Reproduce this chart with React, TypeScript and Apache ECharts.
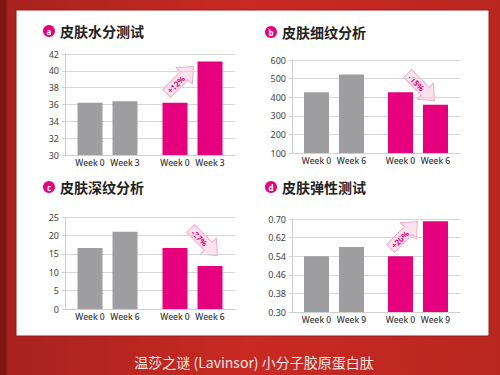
import React, { useEffect, useRef } from "react";
import * as echarts from "echarts";

// ---- data ----
const panelTitles = ["皮肤水分测试", "皮肤细纹分析", "皮肤深纹分析", "皮肤弹性测试"];
const badgeLetters = ["a", "b", "c", "d"];
const groups = ["对照组", "胶原蛋白肽组"];
const weekLabelsA = ["Week 0", "Week 3"];
const weekLabelsB = ["Week 0", "Week 6"];
const weekLabelsC = ["Week 0", "Week 6"];
const weekLabelsD = ["Week 0", "Week 9"];
// values: [control, collagen]
const moistureWeek0 = [36.2, 36.2];
const moistureWeek3 = [36.4, 41.1];
const fineLinesWeek0 = [427, 427];
const fineLinesWeek6 = [522, 360];
const deepLinesWeek0 = [16.6, 16.6];
const deepLinesWeek6 = [21.0, 11.7];
const elasticityWeek0 = [0.54, 0.54];
const elasticityWeek9 = [0.58, 0.69];
const changeLabels = ["+12%", "-15%", "-27%", "+20%"];
const yRanges = [
  [30, 42, 2],
  [100, 600, 100],
  [0, 25, 5],
  [0.3, 0.7, 0.08],
];
const caption = "温莎之谜 (Lavinsor) 小分子胶原蛋白肽";

const GRAY = "#9e9d9f";
const PINK = "#e6007e";
const FONT = "'Noto Sans', 'Noto Sans CJK SC', sans-serif";
const CJK = "'Noto Sans CJK SC', sans-serif";

export default function App() {
  const ref = useRef<HTMLDivElement>(null);
  useEffect(() => {
    if (!ref.current) return;
    const chart = echarts.init(ref.current, null, { renderer: "svg" });

    const grids = [
      { left: 65, top: 54, width: 170, height: 101 },
      { left: 292, top: 60, width: 168, height: 93 },
      { left: 65, top: 217, width: 170, height: 92 },
      { left: 292, top: 219, width: 168, height: 93 },
    ];
    const week0 = [moistureWeek0, fineLinesWeek0, deepLinesWeek0, elasticityWeek0];
    const weekN = [moistureWeek3, fineLinesWeek6, deepLinesWeek6, elasticityWeek9];
    const weekLabels = [weekLabelsA, weekLabelsB, weekLabelsC, weekLabelsD];

    const xAxis = grids.map((_, i) => ({
      type: "category",
      gridIndex: i,
      data: groups,
      axisLabel: { show: false },
      axisTick: { show: false },
      axisLine: { lineStyle: { color: "#cfcfcf" } },
    }));
    const yAxis = grids.map((_, i) => ({
      type: "value",
      gridIndex: i,
      min: yRanges[i][0],
      max: yRanges[i][1],
      interval: yRanges[i][2],
      axisLine: { show: true, lineStyle: { color: "#cfcfcf" } },
      axisTick: { show: true, length: 3, lineStyle: { color: "#cfcfcf" } },
      splitLine: { lineStyle: { color: "#d6d6d6" } },
      axisLabel: {
        fontSize: 9,
        color: "#444",
        margin: 6,
        fontFamily: FONT,
        formatter: (v: number) => (i === 3 ? v.toFixed(2) : String(Math.round(v))),
      },
    }));

    const series: any[] = [];
    grids.forEach((_, i) => {
      [week0[i], weekN[i]].forEach((vals, k) => {
        series.push({
          type: "bar",
          name: weekLabels[i][k],
          xAxisIndex: i,
          yAxisIndex: i,
          barWidth: 25,
          barGap: "40%",
          data: vals.map((v, g) => ({ value: v, itemStyle: { color: g === 0 ? GRAY : PINK } })),
          label: {
            show: true,
            position: "bottom",
            distance: 3,
            formatter: () => weekLabels[i][k],
            fontSize: 8.5,
            fontWeight: 500,
            color: "#333",
            fontFamily: FONT,
          },
        });
      });
    });

    const titlePos = [
      [49, 31],
      [271, 32],
      [49, 187],
      [271, 187],
    ];
    const graphic: any[] = [
      {
        type: "rect",
        z: -100,
        shape: { x: 16, y: 10, width: 473, height: 326 },
        style: { fill: "#ffffff", stroke: "#9c1d1a", lineWidth: 1 },
      },
      {
        type: "text",
        x: 254,
        y: 362,
        style: {
          text: caption,
          fill: "#f6e6e4",
          fontSize: 14,
          fontFamily: CJK,
          textAlign: "center",
          textVerticalAlign: "middle",
        },
      },
    ];
    titlePos.forEach(([x, y], i) => {
      graphic.push({
        type: "circle",
        shape: { cx: x, cy: y, r: 6 },
        style: { fill: PINK },
      });
      graphic.push({
        type: "text",
        x,
        y,
        style: {
          text: badgeLetters[i],
          fill: "#fff",
          fontSize: 8,
          fontWeight: "bold",
          fontFamily: FONT,
          textAlign: "center",
          textVerticalAlign: "middle",
        },
      });
      graphic.push({
        type: "text",
        x: x + 11,
        y,
        style: {
          text: panelTitles[i],
          fill: "#222",
          fontSize: 14,
          fontWeight: "bold",
          fontFamily: CJK,
          textAlign: "left",
          textVerticalAlign: "middle",
        },
      });
    });

    const arrows = [
      { x: 180, y: 80, rot: Math.PI / 4 },
      { x: 421, y: 87, rot: -Math.PI / 4 },
      { x: 204, y: 242, rot: -Math.PI / 4 },
      { x: 404, y: 235, rot: Math.PI / 4 },
    ];
    arrows.forEach((a, i) => {
      graphic.push({
        type: "group",
        x: a.x,
        y: a.y,
        rotation: a.rot,
        z: 100,
        children: [
          {
            type: "polygon",
            shape: {
              points: [
                [-19, -5.5],
                [6, -5.5],
                [6, -11.5],
                [19, 0],
                [6, 11.5],
                [6, 5.5],
                [-19, 5.5],
              ],
            },
            style: { fill: "#fde3ee", stroke: "#f3a9c9", lineWidth: 1 },
          },
          {
            type: "text",
            x: -6,
            y: 0,
            style: {
              text: changeLabels[i],
              fill: PINK,
              fontSize: 8,
              fontWeight: "bold",
              fontFamily: FONT,
              textAlign: "center",
              textVerticalAlign: "middle",
            },
          },
        ],
      });
    });

    chart.setOption({
      animation: false,
      grid: grids,
      xAxis,
      yAxis,
      series,
      graphic,
    });
    return () => chart.dispose();
  }, []);

  return (
    <div
      ref={ref}
      style={{
        position: "absolute",
        left: 0,
        top: 0,
        width: 500,
        height: 375,
        background:
          "linear-gradient(90deg, #7e1614 0px, #7e1614 6px, #a8221e 7px, #c92a23 50%, #b92620 100%)",
      }}
    />
  );
}
